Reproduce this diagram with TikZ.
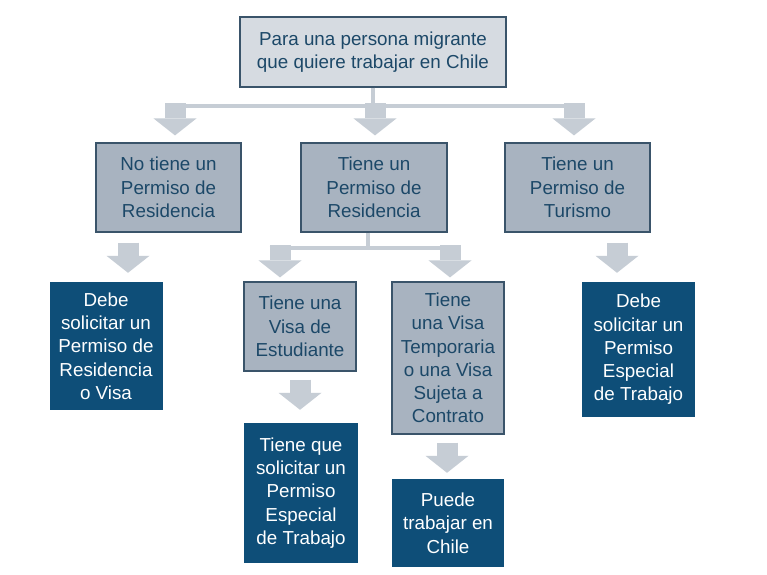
\documentclass[tikz,border=0pt]{standalone}
\usepackage{xcolor}
\usepackage{fontspec}
\setmainfont{Liberation Sans}
\usetikzlibrary{arrows.meta, calc}

\definecolor{edgeblue}{RGB}{58,84,106}
\definecolor{textblue}{RGB}{28,72,104}
\definecolor{topgray}{RGB}{214,219,225}
\definecolor{boxgray}{RGB}{168,179,192}
\definecolor{darkblue}{RGB}{14,78,120}
\definecolor{arrowgray}{RGB}{198,205,213}

\begin{document}
\begin{tikzpicture}[x=1pt, y=-1pt,
    font=\fontsize{18.8}{23.3}\selectfont,
    question/.style={draw=edgeblue, line width=1.2pt, fill=topgray, text=textblue, inner sep=0pt, align=center},
    status/.style={draw=edgeblue, line width=1.2pt, fill=boxgray, text=textblue, inner sep=0pt, align=center},
    outcome/.style={fill=darkblue, text=white, inner sep=0pt, align=center},
    link/.style={draw=arrowgray, line width=4pt},
    fatarrow/.style={draw=arrowgray, line width=21pt, -{Triangle[width=43pt, length=17pt, line width=0pt]}}]
    \fill[white] (0,0) rectangle (767,574);
    \useasboundingbox (0,0) rectangle (767,574);

    % --- QUESTION (TOP) ---
    \node[question, minimum width=266pt, minimum height=70pt] (top) at (373,52) {Para una persona migrante\\que quiere trabajar en Chile};

    % --- FIRST ROW ---
    \node[status, minimum width=145pt, minimum height=89pt] (noRes) at (168.5,187.5) {No tiene un\\Permiso de\\Residencia};
    \node[status, minimum width=146pt, minimum height=89pt] (siRes) at (374,187.5) {Tiene un\\Permiso de\\Residencia};
    \node[status, minimum width=145pt, minimum height=89pt] (turismo) at (577.5,187.5) {Tiene un\\Permiso de\\Turismo};

    % --- SECOND ROW ---
    \node[outcome, minimum width=113pt, minimum height=128pt] (debeVisa) at (106,346) {Debe\\solicitar un\\Permiso de\\Residencia\\o Visa};
    \node[status, minimum width=112pt, minimum height=89pt] (estud) at (300,326.5) {Tiene una\\Visa de\\Estudiante};
    \node[status, minimum width=112pt, minimum height=152pt] (temporal) at (448,358) {Tiene\\una Visa\\Temporaria\\o una Visa\\Sujeta a\\Contrato};
    \node[outcome, minimum width=113pt, minimum height=135pt] (especialB) at (638.5,349.5) {Debe\\solicitar un\\Permiso\\Especial\\de Trabajo};

    % --- THIRD ROW ---
    \node[outcome, minimum width=114pt, minimum height=140pt] (especialA) at (301,493) {Tiene que\\solicitar un\\Permiso\\Especial\\de Trabajo};
    \node[outcome, minimum width=112pt, minimum height=88pt] (puede) at (448,523) {Puede\\trabajar en\\Chile};

    % --- TOP FORK ---
    \coordinate (forkAw) at (165,106);
    \coordinate (forkAe) at (585,106);
    \draw[link] (top.south) -- (top.south |- forkAw);
    \draw[link] (forkAw) -- (forkAe);
    \draw[fatarrow] ($(noRes.north)+(6.5,-39)$) -- ($(noRes.north)+(6.5,-7)$);
    \draw[fatarrow] ($(siRes.north)+(1,-39)$) -- ($(siRes.north)+(1,-7)$);
    \draw[fatarrow] ($(turismo.north)+(-3.5,-39)$) -- ($(turismo.north)+(-3.5,-7)$);

    % --- RESIDENCE FORK ---
    \coordinate (forkBw) at (269.5,248);
    \coordinate (forkBe) at (460.5,248);
    \draw[link] ($(siRes.south)+(-6,0)$) -- ($(siRes.south |- forkBw)+(-6,0)$);
    \draw[link] (forkBw) -- (forkBe);
    \draw[fatarrow] ($(estud.north)+(-20,-36)$) -- ($(estud.north)+(-20,-4)$);
    \draw[fatarrow] ($(temporal.north)+(2,-36)$) -- ($(temporal.north)+(2,-4)$);

    % --- STRAIGHT ARROWS ---
    \draw[fatarrow] ($(noRes.south)+(-40.5,10)$) -- ($(debeVisa.north)+(22,-9)$);
    \draw[fatarrow] ($(turismo.south)+(39.5,10)$) -- ($(especialB.north)+(-21.5,-9)$);
    \draw[fatarrow] ($(estud.south)+(0,8)$) -- ($(especialA.north)+(-1,-13)$);
    \draw[fatarrow] ($(temporal.south)+(-1,8)$) -- ($(puede.north)+(-1,-6)$);
\end{tikzpicture}
\end{document}
